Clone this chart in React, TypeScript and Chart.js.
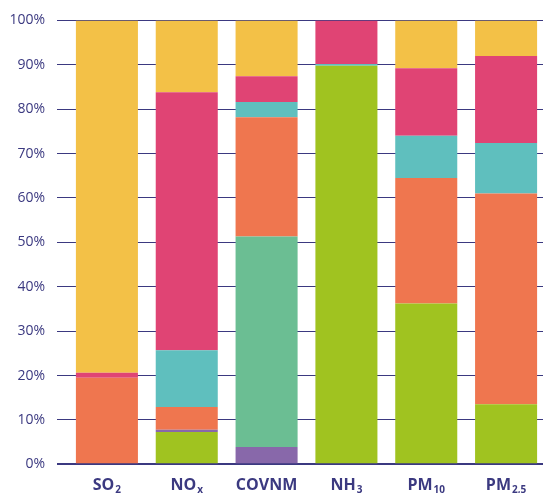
import React, { useEffect, useRef } from "react";
import { Chart, registerables } from "chart.js";

Chart.register(...registerables);

// Pollutant categories: main text and subscript part
const categoryBase = ["SO", "NO", "COVNM", "NH", "PM", "PM"];
const categorySub = ["2", "x", "", "3", "10", "2,5"];

// Share of each pollutant (%) by source, stacked bottom to top
const agriculture = [0, 7.3, 0, 89.8, 36.2, 13.5];
const waste = [0, 0.5, 3.9, 0, 0, 0];
const solvents = [0, 0, 47.4, 0, 0, 0];
const residential = [19.5, 5.1, 26.9, 0, 28.3, 47.5];
const industry = [0, 12.8, 3.4, 0.4, 9.5, 11.4];
const transport = [1.1, 58.1, 5.8, 9.8, 15.2, 19.6];
const energy = [79.4, 16.2, 12.6, 0, 10.8, 8];

const yTicks = [0, 10, 20, 30, 40, 50, 60, 70, 80, 90, 100];

const NAVY = "#3b3980";

const subscriptLabels = {
  id: "subscriptLabels",
  afterDraw(chart: any) {
    const { ctx } = chart;
    const x = chart.scales.x;
    const baseFont = "700 16px 'Open Sans', sans-serif";
    const subFont = "700 10px 'Open Sans', sans-serif";
    const baseline = 490;
    ctx.save();
    ctx.fillStyle = NAVY;
    ctx.textBaseline = "alphabetic";
    ctx.textAlign = "left";
    categoryBase.forEach((base, i) => {
      const sub = categorySub[i];
      ctx.font = baseFont;
      const wBase = ctx.measureText(base).width;
      ctx.font = subFont;
      const wSub = sub ? ctx.measureText(sub).width + 1 : 0;
      const cx = x.getPixelForValue(i);
      const start = cx - (wBase + wSub) / 2;
      ctx.font = baseFont;
      ctx.fillText(base, start, baseline);
      if (sub) {
        ctx.font = subFont;
        ctx.fillText(sub, start + wBase + 1, baseline + 3);
      }
    });
    ctx.restore();
  },
};

export default function App() {
  const canvasRef = useRef<HTMLCanvasElement>(null);

  useEffect(() => {
    if (!canvasRef.current) return;
    const labels = categoryBase.map((b, i) => b + categorySub[i]);
    const mk = (label: string, data: number[], color: string) => ({
      label,
      data,
      backgroundColor: color,
      borderWidth: 0,
      barPercentage: 0.777,
      categoryPercentage: 1,
    });
    const chart = new Chart(canvasRef.current, {
      type: "bar",
      data: {
        labels,
        datasets: [
          mk("Agriculture", agriculture, "#a0c320"),
          mk("Déchets", waste, "#8868aa"),
          mk("Solvants", solvents, "#6bbe93"),
          mk("Résidentiel", residential, "#ef764f"),
          mk("Industrie", industry, "#5fbfbe"),
          mk("Transports", transport, "#e04474"),
          mk("Énergie", energy, "#f3c147"),
        ],
      },
      options: {
        responsive: false,
        animation: false,
        layout: { padding: { top: 19, right: 1, left: 0, bottom: 0 } },
        plugins: {
          legend: { display: false },
          tooltip: { enabled: false },
        },
        scales: {
          x: {
            stacked: true,
            grid: { display: false },
            border: { display: false },
            ticks: { display: false },
            afterFit: (s: any) => {
              s.height = 28.7;
            },
          },
          y: {
            stacked: true,
            min: 0,
            max: 100,
            afterBuildTicks: (s: any) => {
              s.ticks = yTicks.map((v) => ({ value: v }));
            },
            afterFit: (s: any) => {
              s.width = 67;
            },
            border: { display: false },
            grid: {
              color: NAVY,
              lineWidth: (c: any) => (c.tick && c.tick.value === 0 ? 2 : 1),
              tickLength: 10,
              drawTicks: true,
            },
            ticks: {
              padding: 12,
              color: NAVY,
              font: { family: "'Open Sans', sans-serif", size: 14, weight: "400" },
              callback: (v: any) => v + "%",
            },
          },
        },
      },
      plugins: [subscriptLabels],
    });
    return () => chart.destroy();
  }, []);

  return (
    <div
      style={{
        position: "fixed",
        left: 0,
        top: 0,
        width: 543,
        height: 493,
        overflow: "hidden",
        background: "#fff",
      }}
    >
      <canvas
        ref={canvasRef}
        width={547}
        height={493}
        style={{ display: "block", width: 547, height: 493 }}
      />
    </div>
  );
}
